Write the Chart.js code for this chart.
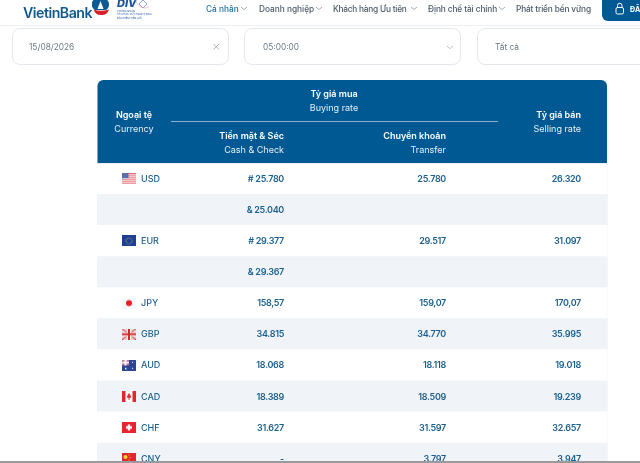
<!DOCTYPE html>
<html lang="vi">
<head>
<meta charset="utf-8">
<title>Tỷ giá</title>
<script src="https://cdn.jsdelivr.net/npm/chart.js@4/dist/chart.umd.min.js"></script>
<style>
  html, body { margin: 0; padding: 0; background: #fff; overflow: hidden; }
  body { width: 640px; height: 463px; position: relative; font-family: Inter, "Noto Sans", sans-serif; filter: blur(0.3px); }
  #myChart { position: absolute; left: 0; top: 0; }
  .abs { position: absolute; white-space: nowrap; }
  .nav { top: 3.5px; font-size: 8.3px; line-height: 11px; color: #4a5a68; font-weight: 500; }
  .nav.on { color: #1c6ea4; }
  .box { top: 28px; height: 35px; border: 1px solid #e3e7ee; border-radius: 8px; box-sizing: content-box; background: #fff; }
  .val { top: 41px; font-size: 8.3px; line-height: 12px; color: #6d7a86; }
  #rule { left: 0; top: 25px; width: 640px; height: 1px; background: #eef0f3; }
  #btn { left: 602px; top: 0; width: 38px; height: 20.5px; background: #005993; border-bottom-left-radius: 6px; }
  #shade { left: 0; top: 460.5px; width: 640px; height: 3px; background: #9a9a9a; }
</style>
</head>
<body>
<canvas id="myChart" width="640" height="474"></canvas>

<!-- page top: logos, menu and the filters -->
<div class="abs" style="left:23px;top:5px;font-size:14.2px;line-height:16px;font-weight:600;color:#11598c;letter-spacing:-0.5px">VietinBank</div>
<svg class="abs" style="left:92px;top:0" width="60" height="22" viewBox="0 0 60 22">
  <path d="M3 10 A6.5 6.5 0 0 1 2.5 -1 L14 -1 A6.5 6.5 0 0 1 14 10 Z" fill="#0d5a94"/>
  <path d="M8.5 1 L5.5 9 H11.5 Z" fill="#fff"/>
  <path d="M1.5 9.5 Q9 12 17 9.5 Q15 15.5 9 15 Q3.5 15 1.5 9.5 Z" fill="#d6202a"/>
  <text x="25" y="7" font-size="11" font-weight="800" font-style="italic" fill="#17539c">DIV</text>
  <path d="M51 0 L55 4 L51 8 L47 4 Z" fill="none" stroke="#8aa6cf" stroke-width="1"/>
  <path d="M44 0 A9 9 0 0 0 57 7" fill="none" stroke="#e9a2a2" stroke-width="0.6"/>
  <text x="25" y="11.5" font-size="2.6" fill="#17539c">CHỨNG NHẬN</text>
  <text x="25" y="15" font-size="2.6" fill="#17539c">TỔ CHỨC XỬ THANH TOÁN</text>
  <text x="25" y="18.5" font-size="2.6" fill="#17539c">BẢO HIỂM TIỀN GỬI</text>
</svg>
<div class="abs nav on" style="left:206px">Cá nhân</div>
<div class="abs nav" style="left:259px">Doanh nghiệp</div>
<div class="abs nav" style="left:333px;letter-spacing:-0.22px">Khách hàng Ưu tiên</div>
<div class="abs nav" style="left:428px;letter-spacing:-0.1px">Định chế tài chính</div>
<div class="abs nav" style="left:516px;letter-spacing:-0.15px">Phát triển bền vững</div>
<svg class="abs" style="left:0;top:0" width="640" height="64" viewBox="0 0 640 64" fill="none" stroke-width="0.8">
  <path d="M241 7 l3 2.6 l3 -2.6" stroke="#7d97ad"/>
  <path d="M316 7 l3 2.6 l3 -2.6" stroke="#8b97a3"/>
  <path d="M411 7 l3 2.6 l3 -2.6" stroke="#8b97a3"/>
  <path d="M499 7 l3 2.6 l3 -2.6" stroke="#8b97a3"/>
</svg>
<div class="abs" id="rule"></div>
<div class="abs" id="btn"></div>
<svg class="abs" style="left:602px;top:0" width="38" height="21" viewBox="0 0 38 21" fill="none" stroke="#fff" stroke-width="1">
  <rect x="14" y="7.5" width="7.5" height="6.5" rx="1.5"/>
  <path d="M15.5 7.5 V5.5 A2.2 2.2 0 0 1 20 5.5 V7.5"/>
  <text x="28" y="12" font-size="7" font-weight="700" fill="#fff" stroke="none">ĐĂ</text>
</svg>

<div class="abs box" style="left:12px;width:215px"></div>
<div class="abs box" style="left:244px;width:215px"></div>
<div class="abs box" style="left:477px;width:180px"></div>
<div class="abs val" style="left:29px">15/08/2026</div>
<div class="abs val" style="left:263px">05:00:00</div>
<div class="abs val" style="left:495px">Tất cả</div>
<svg class="abs" style="left:0;top:28px" width="640" height="36" viewBox="0 0 640 36" fill="none" stroke-width="0.8">
  <path d="M213.5 16 l5.5 5.5 M219 16 l-5.5 5.5" stroke="#9aa3ac"/>
  <path d="M447 18 l3 2.6 l3 -2.6" stroke="#a9b2ba"/>
</svg>
<div class="abs" id="shade"></div>

<script>
// rows of the table
const currencies = ["USD", "", "EUR", "", "JPY", "GBP", "AUD", "CAD", "CHF", "CNY"];
const cashRates = ["# 25.780", "& 25.040", "# 29.377", "& 29.367", "158,57", "34.815", "18.068", "18.389", "31.627", "-"];
const transferRates = ["25.780", "", "29.517", "", "159,07", "34.770", "18.118", "18.509", "31.597", "3.797"];
const sellRates = ["26.320", "", "31.097", "", "170,07", "35.995", "19.018", "19.239", "32.657", "3.947"];

// header labels
const currencyHead = ["Ngoại tệ", "Currency"];
const buyHead = ["Tỷ giá mua", "Buying rate"];
const cashHead = ["Tiền mặt & Séc", "Cash & Check"];
const transferHead = ["Chuyển khoản", "Transfer"];
const sellHead = ["Tỷ giá bán", "Selling rate"];

// table layout, in units of the hidden x scale
const tableLeft = 97.5, tableRight = 607;
const flagX = 129, codeX = 141, cashX = 284, transferX = 446, sellX = 581;

const blue = "#005993", stripe = "#f0f4f8", textBlue = "#1b5f8e";
const font = 'Inter, "Noto Sans", sans-serif';

// flags
function flag(paint) {
  const c = document.createElement("canvas");
  c.width = 14;
  c.height = 11;
  paint(c.getContext("2d"));
  return c;
}
function box(g, col, x, y, w, h) {
  g.fillStyle = col;
  g.fillRect(x, y, w, h);
}
const flags = {
  USD: flag((g) => {
    box(g, "#fff", 0, 0, 14, 11);
    for (let i = 0; i < 6; i++) box(g, "#e2646c", 0, i * 2, 14, 1);
    box(g, "#5a6db0", 0, 0, 6.5, 5);
  }),
  EUR: flag((g) => {
    box(g, "#1c3f9a", 0, 0, 14, 11);
    g.strokeStyle = "#c9b33c";
    g.setLineDash([1, 1]);
    g.beginPath();
    g.arc(7, 5.5, 3, 0, Math.PI * 2);
    g.stroke();
  }),
  JPY: flag((g) => {
    box(g, "#f7f8fa", 0, 0, 14, 11);
    g.fillStyle = "#ea1c24";
    g.beginPath();
    g.arc(7, 5.5, 3, 0, Math.PI * 2);
    g.fill();
  }),
  GBP: flag((g) => {
    box(g, "#f3c9cd", 0, 0, 14, 11);
    g.strokeStyle = "#d4343f";
    g.beginPath();
    g.moveTo(0, 0); g.lineTo(14, 11); g.moveTo(14, 0); g.lineTo(0, 11);
    g.stroke();
    box(g, "#fff", 5, 0, 4, 11);
    box(g, "#fff", 0, 3.5, 14, 4);
    box(g, "#d4252f", 6, 0, 2, 11);
    box(g, "#d4252f", 0, 4.5, 14, 2);
  }),
  AUD: flag((g) => {
    box(g, "#2d4596", 0, 0, 14, 11);
    box(g, "#c77b95", 0, 0, 7, 5.5);
    box(g, "#fff", 2.5, 0, 2, 5.5);
    box(g, "#fff", 0, 2, 7, 1.5);
    box(g, "#fff", 10, 2, 1, 1);
    box(g, "#fff", 10, 8, 1, 1);
    box(g, "#fff", 3, 8, 1.5, 1.5);
  }),
  CAD: flag((g) => {
    box(g, "#fff", 0, 0, 14, 11);
    box(g, "#e3262e", 0, 0, 3.5, 11);
    box(g, "#e3262e", 10.5, 0, 3.5, 11);
    g.fillStyle = "#e3262e";
    g.beginPath();
    g.moveTo(7, 2); g.lineTo(9.5, 6.5); g.lineTo(7.5, 7); g.lineTo(7.5, 9);
    g.lineTo(6.5, 9); g.lineTo(6.5, 7); g.lineTo(4.5, 6.5);
    g.fill();
  }),
  CHF: flag((g) => {
    box(g, "#e8242c", 0, 0, 14, 11);
    box(g, "#fff", 5.8, 2.5, 2.4, 6);
    box(g, "#fff", 4, 4.3, 6, 2.4);
  }),
  CNY: flag((g) => {
    box(g, "#e3262e", 0, 0, 14, 11);
    g.fillStyle = "#f6d327";
    g.beginPath();
    g.arc(3.5, 4, 2, 0, Math.PI * 2);
    g.fill();
    box(g, "#f6d327", 6.5, 1.5, 1, 1);
    box(g, "#f6d327", 7.5, 4, 1, 1);
    box(g, "#f6d327", 6.5, 6.5, 1, 1);
  }),
};

function put(ctx, str, x, y, align, color, weight, size, spacing) {
  ctx.font = `${weight} ${size}px ${font}`;
  ctx.letterSpacing = spacing || "0px";
  ctx.textAlign = align;
  ctx.textBaseline = "middle";
  ctx.fillStyle = color;
  ctx.fillText(str, x, y);
}

// blue header above the rows
const headerPlugin = {
  id: "header",
  beforeDatasetsDraw(chart) {
    const { ctx, scales } = chart;
    const left = scales.x.getPixelForValue(tableLeft);
    const right = scales.x.getPixelForValue(tableRight);
    const bottom = chart.chartArea.top;
    ctx.save();
    ctx.fillStyle = "#f0f3f6";
    ctx.fillRect(left - 0.5, 80, right - left + 1, 395);
    ctx.fillStyle = blue;
    ctx.beginPath();
    ctx.roundRect(left, 80, right - left, bottom - 80, [6, 6, 0, 0]);
    ctx.fill();
    ctx.strokeStyle = "#8fb0c9";
    ctx.lineWidth = 1;
    ctx.beginPath();
    ctx.moveTo(171, 121.5);
    ctx.lineTo(498, 121.5);
    ctx.stroke();
    const xOf = (v) => scales.x.getPixelForValue(v);
    const two = (pair, x, y, align) => {
      put(ctx, pair[0], x, y, align, "#fff", 600, 9);
      put(ctx, pair[1], x, y + 14, align, "#e8eff5", 400, 9);
    };
    two(currencyHead, xOf(134), 115, "center");
    two(buyHead, xOf(334), 94, "center");
    two(cashHead, xOf(cashX), 136, "right");
    two(transferHead, xOf(transferX), 136, "right");
    two(sellHead, xOf(sellX), 115, "right");
    ctx.restore();
  },
};

// text of the cells, placed by the chart scales
const cellPlugin = {
  id: "cells",
  afterDatasetsDraw(chart) {
    const { ctx, scales } = chart;
    ctx.save();
    currencies.forEach((code, i) => {
      const y = scales.y.getPixelForValue(i) + 0.5;
      put(ctx, code, scales.x.getPixelForValue(codeX), y, "left", textBlue, 500, 9);
      put(ctx, cashRates[i], scales.x.getPixelForValue(cashX), y, "right", textBlue, 600, 9, "-0.3px");
      put(ctx, transferRates[i], scales.x.getPixelForValue(transferX), y, "right", textBlue, 600, 9, "-0.3px");
      put(ctx, sellRates[i], scales.x.getPixelForValue(sellX), y, "right", textBlue, 600, 9, "-0.3px");
    });
    ctx.restore();
  },
};

new Chart(document.getElementById("myChart"), {
  type: "bar",
  data: {
    labels: currencies,
    datasets: [
      {
        label: "Rows",
        order: 2,
        data: currencies.map(() => [tableLeft, tableRight]),
        backgroundColor: (c) => (c.dataIndex % 2 ? stripe : "#fff"),
        barPercentage: 1,
        categoryPercentage: 1,
      },
      {
        type: "scatter",
        label: "Flags",
        order: 1,
        data: currencies.map((code) => ({ x: code ? flagX : null, y: code })),
        pointStyle: currencies.map((code) => flags[code] || false),
      },
    ],
  },
  options: {
    indexAxis: "y",
    responsive: false,
    animation: false,
    layout: { autoPadding: false, padding: { top: 163.3, left: 0, right: 0, bottom: 0 } },
    plugins: { legend: { display: false }, tooltip: { enabled: false } },
    scales: {
      x: { type: "linear", min: 0, max: 640, display: false },
      y: { type: "category", display: false },
    },
  },
  plugins: [headerPlugin, cellPlugin],
});
</script>
</body>
</html>
